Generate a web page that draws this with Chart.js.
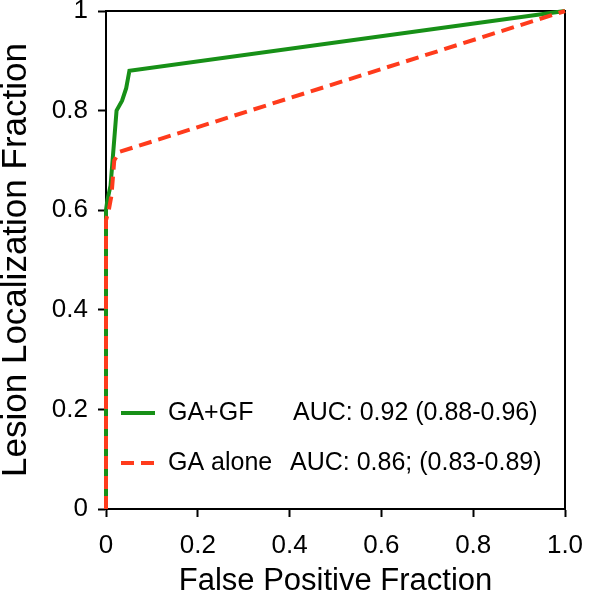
<!DOCTYPE html>
<html>
<head>
<meta charset="utf-8">
<script src="https://cdn.jsdelivr.net/npm/chart.js@4"></script>
<style>
    html, body { margin: 0; padding: 0; background: #fff; }
    #wrap { width: 600px; height: 596px; }
</style>
</head>
<body>
<div id="wrap"><canvas id="rocChart" width="600" height="596"></canvas></div>
<script>
// FROC curve data
const seriesNames = ['GA+GF', 'GA alone'];
const aucLabels = ['AUC: 0.92 (0.88-0.96)', 'AUC: 0.86; (0.83-0.89)'];

const gaGfX = [0, 0, 0.003, 0.010, 0.023, 0.035, 0.044, 0.051, 1.0];
const gaGfY = [0, 0.60, 0.62, 0.65, 0.80, 0.82, 0.845, 0.88, 1.0];

const gaAloneX = [0, 0, 0.006, 0.012, 0.018, 0.029, 1.0];
const gaAloneY = [0, 0.58, 0.60, 0.63, 0.70, 0.717, 1.0];

const xTickValues = [0, 0.2, 0.4, 0.6, 0.8, 1.0];
const xTickLabels = ['0', '0.2', '0.4', '0.6', '0.8', '1.0'];
const yTickValues = [0, 0.2, 0.4, 0.6, 0.8, 1.0];
const yTickLabels = ['0', '0.2', '0.4', '0.6', '0.8', '1'];

const FONT = "'Liberation Sans', Arial, sans-serif";

function toPoints(xs, ys) {
    return xs.map((x, i) => ({ x: x, y: ys[i] }));
}

// frame round the plot area (top and right sides)
const framePlugin = {
    id: 'frame',
    beforeDatasetsDraw(chart) {
        const { ctx, chartArea: a } = chart;
        ctx.save();
        ctx.strokeStyle = '#000';
        ctx.lineWidth = 2;
        ctx.beginPath();
        ctx.moveTo(a.left, a.top);
        ctx.lineTo(a.right, a.top);
        ctx.lineTo(a.right, a.bottom);
        ctx.stroke();
        ctx.restore();
    }
};

// legend drawn inside the plot, with AUC text
const insideLegend = {
    id: 'insideLegend',
    afterDatasetsDraw(chart) {
        const { ctx, chartArea: a } = chart;
        const rows = [a.top + 402, a.top + 452];
        const aucX = [a.left + 187, a.left + 184];
        ctx.save();
        chart.data.datasets.forEach((ds, i) => {
            const y = rows[i];
            ctx.strokeStyle = ds.borderColor;
            ctx.lineWidth = ds.borderWidth;
            ctx.setLineDash(ds.borderDash || []);
            ctx.beginPath();
            ctx.moveTo(a.left + 15, y);
            ctx.lineTo(a.left + 49, y);
            ctx.stroke();
            ctx.setLineDash([]);
            ctx.fillStyle = '#000';
            ctx.font = '25px ' + FONT;
            ctx.textBaseline = 'middle';
            ctx.textAlign = 'left';
            ctx.fillText(seriesNames[i], a.left + 62, y);
            ctx.fillText(aucLabels[i], aucX[i], y);
        });
        ctx.restore();
    }
};

new Chart(document.getElementById('rocChart'), {
    type: 'line',
    data: {
        datasets: [
            {
                label: seriesNames[0],
                data: toPoints(gaGfX, gaGfY),
                borderColor: '#179017',
                borderWidth: 4,
                pointRadius: 0,
                tension: 0,
                fill: false,
                clip: false,
                order: 2
            },
            {
                label: seriesNames[1],
                data: toPoints(gaAloneX, gaAloneY),
                borderColor: '#ff3b1c',
                borderWidth: 4,
                borderDash: [13, 7],
                pointRadius: 0,
                tension: 0,
                fill: false,
                clip: false,
                order: 1
            }
        ]
    },
    options: {
        responsive: false,
        animation: false,
        layout: { padding: { top: 11, right: 35, left: 0, bottom: 0 } },
        plugins: {
            legend: { display: false },
            tooltip: { enabled: false }
        },
        scales: {
            x: {
                type: 'linear',
                min: 0,
                max: 1,
                afterFit(scale) {
                    scale.height = 87;
                    scale.paddingLeft = 0;
                    scale.paddingRight = 0;
                },
                afterBuildTicks(scale) {
                    scale.ticks = xTickValues.map(v => ({ value: v }));
                },
                ticks: {
                    padding: 13,
                    color: '#000',
                    font: { family: FONT, size: 26 },
                    maxRotation: 0,
                    autoSkip: false,
                    callback: (v, i) => xTickLabels[i]
                },
                grid: {
                    drawOnChartArea: false,
                    tickLength: 8,
                    tickWidth: 2,
                    tickColor: '#000'
                },
                border: { color: '#000', width: 2 },
                title: {
                    display: true,
                    text: 'False Positive Fraction',
                    color: '#000',
                    font: { family: FONT, size: 31, lineHeight: 1 },
                    padding: { top: 0, bottom: -1 }
                }
            },
            y: {
                type: 'linear',
                min: 0,
                max: 1,
                afterFit(scale) {
                    scale.width = 106;
                    scale.paddingTop = 0;
                    scale.paddingBottom = 0;
                },
                afterBuildTicks(scale) {
                    scale.ticks = yTickValues.map(v => ({ value: v }));
                },
                ticks: {
                    padding: 10,
                    color: '#000',
                    font: { family: FONT, size: 26 },
                    autoSkip: false,
                    callback: (v, i) => yTickLabels[i]
                },
                grid: {
                    drawOnChartArea: false,
                    tickLength: 8,
                    tickWidth: 2,
                    tickColor: '#000'
                },
                border: { color: '#000', width: 2 },
                title: {
                    display: true,
                    text: 'Lesion Localization Fraction',
                    color: '#000',
                    font: { family: FONT, size: 35, lineHeight: 1 },
                    padding: { top: -1, bottom: 0 }
                }
            }
        }
    },
    plugins: [framePlugin, insideLegend]
});
</script>
</body>
</html>
